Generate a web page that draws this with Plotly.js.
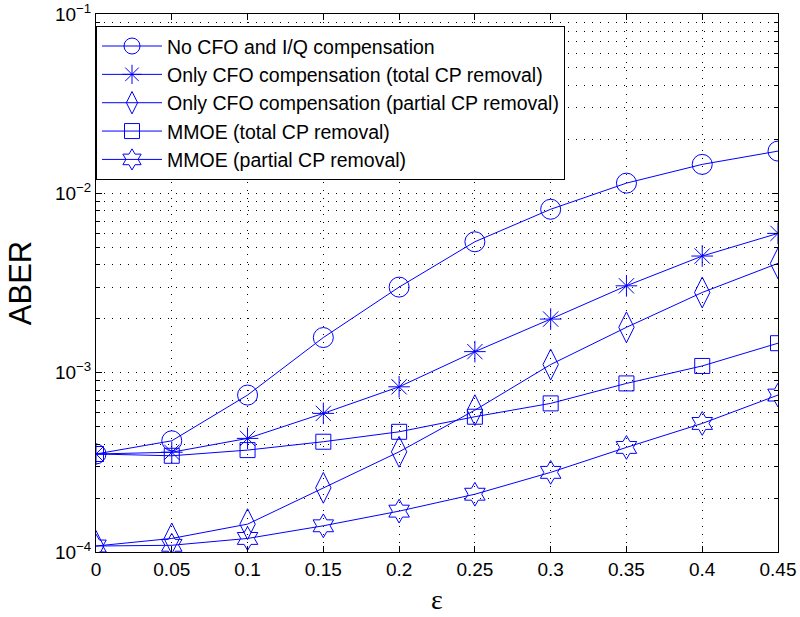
<!DOCTYPE html>
<html>
<head>
<meta charset="utf-8">
<script src="https://cdn.plot.ly/plotly-3.0.1.min.js"></script>
<style>html,body{margin:0;padding:0;background:#fff;}#plot{width:800px;height:617px;}</style>
</head>
<body>
<div id="plot"></div>
<script>
const epsilon = [0, 0.05, 0.1, 0.15, 0.2, 0.25, 0.3, 0.35, 0.4, 0.45];
const noComp = [3.52e-4, 4.17e-4, 7.5e-4, 1.57e-3, 3.0e-3, 5.37e-3, 8.15e-3, 1.14e-2, 1.45e-2, 1.72e-2];
const cfoTotal = [3.52e-4, 3.6e-4, 4.3e-4, 5.93e-4, 8.34e-4, 1.31e-3, 1.99e-3, 3.05e-3, 4.47e-3, 5.98e-3];
const cfoPartial = [1.08e-4, 1.19e-4, 1.43e-4, 2.28e-4, 3.62e-4, 6.18e-4, 1.11e-3, 1.79e-3, 2.8e-3, 4.07e-3];
const mmoeTotal = [3.52e-4, 3.44e-4, 3.7e-4, 4.12e-4, 4.68e-4, 5.68e-4, 6.74e-4, 8.71e-4, 1.09e-3, 1.46e-3];
const mmoePartial = [1.08e-4, 1.09e-4, 1.19e-4, 1.4e-4, 1.69e-4, 2.1e-4, 2.78e-4, 3.83e-4, 5.21e-4, 7.5e-4];
const names = [
  'No CFO and I/Q compensation',
  'Only CFO compensation (total CP removal)',
  'Only CFO compensation (partial CP removal)',
  'MMOE (total CP removal)',
  'MMOE (partial CP removal)'
];
const yTickVals = [1e-4, 1e-3, 1e-2, 1e-1];
const yTickText = ['10<sup>−4</sup>', '10<sup>−3</sup>', '10<sup>−2</sup>', '10<sup>−1</sup>'];

const series = [noComp, cfoTotal, cfoPartial, mmoeTotal, mmoePartial];
const symbols = ['circle-open', 'asterisk-open', 'diamond-tall-open', 'square-open', 'hexagram-open'];
const sizes = [20, 18, 22, 15, 18];
const blue = '#0000ff';

const traces = series.map((ys, i) => ({
  x: epsilon, y: ys, name: names[i], type: 'scatter', mode: 'lines+markers',
  line: {color: blue, width: 1},
  marker: {symbol: symbols[i], size: sizes[i], color: blue, line: {color: blue, width: 1}}
}));

const font = {family: 'Liberation Sans, Arial, Helvetica, sans-serif', color: '#000'};
const dots = '1px,7px';
const layout = {
  width: 800, height: 617,
  margin: {l: 96, r: 22, t: 14, b: 65},
  paper_bgcolor: '#fff', plot_bgcolor: '#fff',
  font: Object.assign({size: 19}, font),
  showlegend: true,
  legend: {
    x: 0, y: 0.978, xanchor: 'left', yanchor: 'top',
    bgcolor: '#fff', bordercolor: '#000', borderwidth: 1,
    font: Object.assign({size: 19.5}, font),
    itemwidth: 60, tracegroupgap: 0
  },
  xaxis: {
    range: [0, 0.45], tickmode: 'linear', tick0: 0, dtick: 0.05,
    showline: true, linecolor: '#000', linewidth: 1, mirror: 'ticks',
    ticks: 'inside', ticklen: 6, tickcolor: '#000',
    showgrid: true, gridcolor: '#000', gridwidth: 1, griddash: dots,
    zeroline: false,
    tickfont: Object.assign({size: 19}, font),
    title: {text: 'ε', font: {family: 'Liberation Serif, Times New Roman, serif', size: 28, color: '#000'}, standoff: 10}
  },
  yaxis: {
    type: 'log', range: [-4, -1], tickmode: 'array', tickvals: yTickVals, ticktext: yTickText,
    showline: true, linecolor: '#000', linewidth: 1, mirror: 'ticks',
    ticks: 'inside', ticklen: 6, tickcolor: '#000',
    showgrid: true, gridcolor: '#000', gridwidth: 1, griddash: dots,
    minor: {dtick: 'D1', ticks: 'inside', ticklen: 4, tickcolor: '#000', showgrid: true, gridcolor: '#000', gridwidth: 1, griddash: dots},
    zeroline: false,
    tickfont: Object.assign({size: 19}, font),
    title: {text: 'ABER', font: Object.assign({size: 31}, font), standoff: 14}
  }
};
Plotly.newPlot('plot', traces, layout, {displayModeBar: false, staticPlot: true});
</script>
</body>
</html>
